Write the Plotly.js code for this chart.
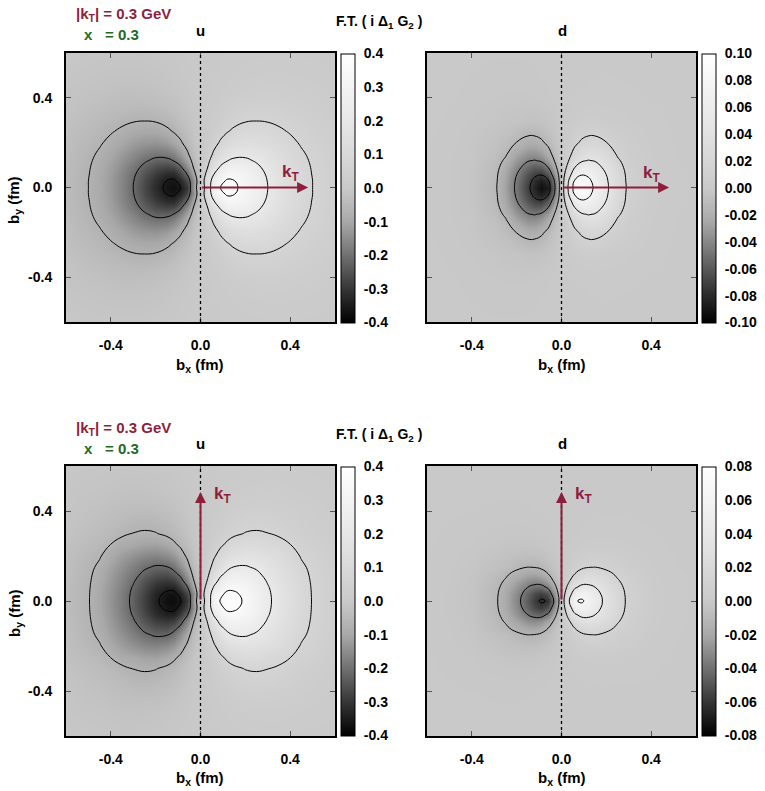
<!DOCTYPE html>
<html><head><meta charset="utf-8">
<script src="https://cdn.plot.ly/plotly-3.0.1.min.js"></script>
<style>html,body{margin:0;padding:0;background:#fff}#plot{width:765px;height:791px}</style>
</head><body><div id="plot"></div>
<script>
// grid nodes (fm) for the quadrant x>=0, y>=0 ; the plane is filled by symmetry
// (odd in b_x, even in b_y)
const xPosU = [0, 0.03, 0.06, 0.09, 0.12, 0.15, 0.2, 0.25, 0.3, 0.35, 0.4, 0.45, 0.5, 0.6];
const yPosU = [0, 0.03, 0.06, 0.09, 0.12, 0.15, 0.2, 0.25, 0.3, 0.35, 0.4, 0.45, 0.5, 0.6];
const xPosD = [0, 0.03, 0.06, 0.09, 0.12, 0.15, 0.2, 0.25, 0.3, 0.4, 0.5, 0.6];
const yPosD = [0, 0.03, 0.06, 0.09, 0.12, 0.15, 0.2, 0.25, 0.3, 0.4, 0.5, 0.6];

// u quark, k_T along x (rows = yPosU, cols = xPosU)
const uTop = [
  [0, 0.117, 0.300, 0.353, 0.373, 0.365, 0.320, 0.265, 0.210, 0.165, 0.125, 0.095, 0.070, 0.040],
  [0, 0.131, 0.266, 0.330, 0.359, 0.352, 0.313, 0.260, 0.207, 0.163, 0.124, 0.0942, 0.070, 0.040],
  [0, 0.094, 0.208, 0.277, 0.321, 0.318, 0.291, 0.246, 0.199, 0.158, 0.120, 0.0918, 0.068, 0.039],
  [0, 0.064, 0.151, 0.225, 0.261, 0.274, 0.260, 0.226, 0.186, 0.149, 0.115, 0.0879, 0.066, 0.038],
  [0, 0.045, 0.113, 0.170, 0.208, 0.226, 0.225, 0.201, 0.169, 0.137, 0.107, 0.0828, 0.063, 0.037],
  [0, 0.032, 0.081, 0.128, 0.162, 0.183, 0.190, 0.174, 0.151, 0.124, 0.099, 0.0765, 0.059, 0.035],
  [0, 0.018, 0.048, 0.079, 0.104, 0.123, 0.136, 0.132, 0.119, 0.0996, 0.082, 0.0645, 0.052, 0.032],
  [0, 0.011, 0.029, 0.049, 0.067, 0.081, 0.095, 0.097, 0.089, 0.0785, 0.066, 0.0536, 0.044, 0.0275],
  [0, 0.0066, 0.018, 0.030, 0.043, 0.053, 0.065, 0.068, 0.066, 0.0592, 0.050, 0.0438, 0.036, 0.023],
  [0, 0.0041, 0.0112, 0.0194, 0.0275, 0.0347, 0.043, 0.0474, 0.047, 0.0431, 0.0396, 0.0344, 0.0283, 0.0185],
  [0, 0.0025, 0.007, 0.012, 0.018, 0.023, 0.029, 0.032, 0.033, 0.0324, 0.030, 0.0256, 0.023, 0.015],
  [0, 0.0016, 0.0045, 0.0079, 0.0114, 0.0147, 0.0191, 0.0222, 0.0239, 0.0236, 0.0214, 0.0199, 0.0172, 0.0129],
  [0, 0.001, 0.003, 0.005, 0.0074, 0.0098, 0.013, 0.016, 0.017, 0.0166, 0.016, 0.0147, 0.013, 0.010],
  [0, 0.0006, 0.0012, 0.0022, 0.0033, 0.0044, 0.0061, 0.0074, 0.0082, 0.0082, 0.0084, 0.0084, 0.0079, 0.006]
];
// d quark, k_T along x (rows = yPosD, cols = xPosD)
const dTop = [
  [0, 0.047, 0.087, 0.093, 0.084, 0.0707, 0.0493, 0.027, 0.0115, 0.003, 0.001, 0.0003],
  [0, 0.043, 0.078, 0.087, 0.080, 0.068, 0.048, 0.026, 0.011, 0.003, 0.001, 0.0003],
  [0, 0.0316, 0.061, 0.0728, 0.0705, 0.0621, 0.0445, 0.0243, 0.0106, 0.0029, 0.001, 0.0003],
  [0, 0.0206, 0.045, 0.0571, 0.0581, 0.0533, 0.0393, 0.0212, 0.0095, 0.0028, 0.001, 0.0003],
  [0, 0.0137, 0.0314, 0.0424, 0.0458, 0.0437, 0.0329, 0.0173, 0.008, 0.0027, 0.0009, 0.0003],
  [0, 0.0091, 0.0215, 0.0308, 0.0349, 0.0345, 0.0261, 0.0129, 0.0068, 0.0024, 0.0008, 0.0003],
  [0, 0.0046, 0.0116, 0.0176, 0.021, 0.0211, 0.0154, 0.0087, 0.0053, 0.0021, 0.0007, 0.0003],
  [0, 0.0024, 0.0061, 0.0093, 0.011, 0.0109, 0.0078, 0.0052, 0.0039, 0.0017, 0.0006, 0.0002],
  [0, 0.0011, 0.0027, 0.0041, 0.0046, 0.0048, 0.0039, 0.0035, 0.0024, 0.0012, 0.0005, 0.0002],
  [0, 0.0002, 0.0005, 0.0009, 0.0012, 0.0014, 0.0014, 0.0013, 0.0011, 0.0006, 0.0003, 0.0001],
  [0, 0.0001, 0.0002, 0.0003, 0.0005, 0.0006, 0.0007, 0.0007, 0.0006, 0.0004, 0.0002, 0.0001],
  [0, 0, 0.0001, 0.0001, 0.0002, 0.0002, 0.0003, 0.0003, 0.0003, 0.0002, 0.0001, 0.0001]
];
// u quark, k_T along y (rows = yPosU, cols = xPosU)
const uBot = [
  [0, 0.117, 0.300, 0.357, 0.378, 0.373, 0.340, 0.280, 0.226, 0.178, 0.137, 0.100, 0.0668, 0.035],
  [0, 0.135, 0.273, 0.337, 0.366, 0.363, 0.333, 0.276, 0.2235, 0.1764, 0.136, 0.0991, 0.0663, 0.0348],
  [0, 0.102, 0.223, 0.291, 0.334, 0.335, 0.314, 0.264, 0.216, 0.1715, 0.132, 0.0964, 0.0653, 0.0344],
  [0, 0.0717, 0.166, 0.241, 0.283, 0.297, 0.286, 0.247, 0.203, 0.1637, 0.127, 0.0922, 0.0634, 0.0336],
  [0, 0.051, 0.1275, 0.192, 0.233, 0.256, 0.252, 0.224, 0.188, 0.1534, 0.1196, 0.0865, 0.061, 0.0325],
  [0, 0.0377, 0.0955, 0.149, 0.190, 0.214, 0.218, 0.2007, 0.171, 0.1412, 0.111, 0.0795, 0.0578, 0.0312],
  [0, 0.0232, 0.0611, 0.0994, 0.130, 0.151, 0.164, 0.157, 0.140, 0.1192, 0.0936, 0.0656, 0.0516, 0.0285],
  [0, 0.0135, 0.0361, 0.0602, 0.0815, 0.0978, 0.1126, 0.110, 0.0987, 0.0897, 0.0711, 0.0517, 0.0417, 0.0238],
  [0, 0.0077, 0.0208, 0.0354, 0.0491, 0.0601, 0.0722, 0.0754, 0.0711, 0.0616, 0.0481, 0.0385, 0.0309, 0.0182],
  [0, 0.0051, 0.0139, 0.0239, 0.0337, 0.0422, 0.0518, 0.0557, 0.0535, 0.0453, 0.0377, 0.0314, 0.0249, 0.0153],
  [0, 0.0035, 0.0096, 0.0167, 0.0239, 0.0302, 0.0379, 0.0402, 0.0383, 0.034, 0.0309, 0.0248, 0.0205, 0.0125],
  [0, 0.0023, 0.0063, 0.011, 0.0158, 0.0201, 0.0251, 0.0264, 0.0264, 0.0257, 0.023, 0.0185, 0.0167, 0.011],
  [0, 0.0014, 0.004, 0.0069, 0.0099, 0.0123, 0.0157, 0.0183, 0.0194, 0.0186, 0.0167, 0.0141, 0.0129, 0.0094],
  [0, 0.0006, 0.0018, 0.0032, 0.0046, 0.006, 0.008, 0.0084, 0.0092, 0.0096, 0.0086, 0.0077, 0.0075, 0.0059]
];
// d quark, k_T along y (rows = yPosD, cols = xPosD)
const dBot = [
  [0, 0.033, 0.0612, 0.0645, 0.058, 0.0475, 0.032, 0.0185, 0.0098, 0.003, 0.001, 0.0004],
  [0, 0.0257, 0.0508, 0.0574, 0.0534, 0.0447, 0.0306, 0.0179, 0.0096, 0.003, 0.001, 0.0004],
  [0, 0.0165, 0.0353, 0.043, 0.0424, 0.0378, 0.0269, 0.0161, 0.009, 0.0028, 0.001, 0.0004],
  [0, 0.0095, 0.0217, 0.0289, 0.0307, 0.0289, 0.0217, 0.0135, 0.008, 0.0027, 0.0009, 0.0004],
  [0, 0.0054, 0.0128, 0.0185, 0.021, 0.0205, 0.016, 0.0105, 0.0069, 0.0024, 0.0009, 0.0004],
  [0, 0.0028, 0.0069, 0.0104, 0.0122, 0.0126, 0.0101, 0.0067, 0.005, 0.0018, 0.0007, 0.0003],
  [0, 0.0012, 0.0032, 0.0049, 0.0059, 0.0064, 0.0055, 0.0048, 0.0034, 0.0015, 0.0006, 0.0003],
  [0, 0.0005, 0.0012, 0.0019, 0.0024, 0.0028, 0.0031, 0.0026, 0.0018, 0.0009, 0.0005, 0.0002],
  [0, 0.0002, 0.0005, 0.0008, 0.001, 0.0012, 0.0014, 0.0013, 0.0011, 0.0007, 0.0004, 0.0002],
  [0, 0.0001, 0.0002, 0.0002, 0.0003, 0.0004, 0.0004, 0.0004, 0.0004, 0.0003, 0.0002, 0.0001],
  [0, 0, 0.0001, 0.0001, 0.0001, 0.0001, 0.0002, 0.0002, 0.0002, 0.0001, 0.0001, 0.0001],
  [0, 0, 0, 0, 0.0001, 0.0001, 0.0001, 0.0001, 0.0001, 0.0001, 0.0001, 0]
];

const axisTickVals = [-0.4, 0, 0.4];
const axisTickText = ['-0.4', '0.0', '0.4'];
const cbU = [-0.4, -0.3, -0.2, -0.1, 0, 0.1, 0.2, 0.3, 0.4];
const cbUText = ['-0.4', '-0.3', '-0.2', '-0.1', '0.0', '0.1', '0.2', '0.3', '0.4'];
const cbDTop = [-0.1, -0.08, -0.06, -0.04, -0.02, 0, 0.02, 0.04, 0.06, 0.08, 0.1];
const cbDTopText = ['-0.10', '-0.08', '-0.06', '-0.04', '-0.02', '0.00', '0.02', '0.04', '0.06', '0.08', '0.10'];
const cbDBot = [-0.08, -0.06, -0.04, -0.02, 0, 0.02, 0.04, 0.06, 0.08];
const cbDBotText = ['-0.08', '-0.06', '-0.04', '-0.02', '0.00', '0.02', '0.04', '0.06', '0.08'];

const W = 765, H = 791;
const F = 'Liberation Sans, Arial, Helvetica, sans-serif';
const RED = '#8e1f3c', GREEN = '#236b1e';
const px = v => v / W, py = v => 1 - v / H;

const grayScale = [[0, '#000000'], [0.125, '#353535'], [0.25, '#707070'], [0.375, '#a8a8a8'],
  [0.5, '#c9c9c9'], [0.625, '#d9d9d9'], [0.75, '#e7e7e7'], [0.875, '#f3f3f3'], [1, '#ffffff']];

function fullPlane(Q, xP, yP) {
  const xs = xP.slice(1).reverse().map(v => -v).concat(xP);
  const ys = yP.slice(1).reverse().map(v => -v).concat(yP);
  const z = ys.map(y => {
    const row = Q[yP.indexOf(Math.abs(y))];
    return xs.map(x => (x < 0 ? -1 : 1) * row[xP.indexOf(Math.abs(x))]);
  });
  return { xs, ys, z };
}

const panels = [
  { q: uTop, gx: xPosU, gy: yPosU, n: '', zr: 0.4, cbx: 341, cby: 188, vals: cbU, text: cbUText, lv: [-0.35, 0.35, 0.14] },
  { q: dTop, gx: xPosD, gy: yPosD, n: '2', zr: 0.1, cbx: 702, cby: 188, vals: cbDTop, text: cbDTopText, lv: [-0.075, 0.075, 0.03] },
  { q: uBot, gx: xPosU, gy: yPosU, n: '3', zr: 0.4, cbx: 341, cby: 601, vals: cbU, text: cbUText, lv: [-0.35, 0.35, 0.14] },
  { q: dBot, gx: xPosD, gy: yPosD, n: '4', zr: 0.08, cbx: 702, cby: 601, vals: cbDBot, text: cbDBotText, lv: [-0.0625, 0.0625, 0.025] }
];

const traces = [];
panels.forEach(p => {
  const g = fullPlane(p.q, p.gx, p.gy);
  traces.push({
    type: 'heatmap', x: g.xs, y: g.ys, z: g.z, xaxis: 'x' + p.n, yaxis: 'y' + p.n,
    zsmooth: 'best', zmin: -p.zr, zmax: p.zr, colorscale: grayScale, hoverinfo: 'skip',
    colorbar: {
      x: px(p.cbx), xanchor: 'left', y: py(p.cby), yanchor: 'middle',
      len: 269, lenmode: 'pixels', thickness: 14, thicknessmode: 'pixels',
      xpad: 0, ypad: 0, outlinewidth: 1, outlinecolor: '#000',
      tickvals: p.vals, ticktext: p.text, ticks: 'outside', ticklen: 6, tickcolor: 'rgba(0,0,0,0)',
      tickfont: { family: F, size: 14, color: '#000', weight: 'bold' }
    }
  });
  traces.push({
    type: 'contour', x: g.xs, y: g.ys, z: g.z, xaxis: 'x' + p.n, yaxis: 'y' + p.n,
    autocontour: false, contours: { start: p.lv[0], end: p.lv[1], size: p.lv[2], coloring: 'none' },
    line: { color: '#000', width: 1, smoothing: 1.3 }, showscale: false, hoverinfo: 'skip'
  });
});

function axis(domain, anchor, labels) {
  return {
    domain, anchor, range: [-0.6, 0.6], tickvals: axisTickVals, ticktext: axisTickText,
    ticks: 'inside', ticklen: 5, tickwidth: 1, tickcolor: '#555', showticklabels: labels,
    showline: true, linewidth: 2, linecolor: '#000', mirror: 'ticks',
    showgrid: false, zeroline: false, fixedrange: true, ticklabelstandoff: 9,
    tickfont: { family: F, size: 14, color: '#000', weight: 'bold' }
  };
}
const dxL = [px(66), px(335)], dxR = [px(427), px(696)];
const dyT = [py(322), py(53)], dyB = [py(736), py(466)];

const layout = {
  width: W, height: H, margin: { l: 0, r: 0, t: 0, b: 0 },
  paper_bgcolor: '#fff', plot_bgcolor: '#c9c9c9', showlegend: false,
  xaxis: axis(dxL, 'y', true), yaxis: axis(dyT, 'x', true),
  xaxis2: axis(dxR, 'y2', true), yaxis2: axis(dyT, 'x2', false),
  xaxis3: axis(dxL, 'y3', true), yaxis3: axis(dyB, 'x3', true),
  xaxis4: axis(dxR, 'y4', true), yaxis4: axis(dyB, 'x4', false),
  shapes: [], annotations: []
};

['', '2', '3', '4'].forEach(n => {
  layout.shapes.push({ type: 'line', xref: 'x' + n, yref: 'y' + n, x0: 0, x1: 0, y0: -0.6, y1: 0.6,
    line: { color: '#000', width: 1.3, dash: '3px,3px' } });
});

const A = layout.annotations;
function txt(text, x, y, opt) {
  A.push(Object.assign({ text, x: px(x), y: py(y), xref: 'paper', yref: 'paper', showarrow: false,
    xanchor: 'center', yanchor: 'middle', font: { family: F, size: 15, color: '#000', weight: 'bold' } }, opt || {}));
}
[0, 413].forEach(o => {
  txt('|k<sub>T</sub>| = 0.3 GeV', 74, 15 + o, { xanchor: 'left', font: { family: F, size: 15, color: RED, weight: 'bold' } });
  txt('x', 82, 35 + o, { xanchor: 'left', font: { family: F, size: 15, color: GREEN, weight: 'bold' } });
  txt('= 0.3', 103, 35 + o, { xanchor: 'left', font: { family: F, size: 15, color: GREEN, weight: 'bold' } });
  txt('u', 200, 30 + o);
  txt('d', 562, 30 + o);
  txt('F.T. ( i Δ<sub>1</sub> G<sub>2</sub> )', 334, 22 + o, { xanchor: 'left', font: { family: F, size: 14, color: '#000', weight: 'bold' } });
  txt('b<sub>x</sub> (fm)', 200, 365 + o);
  txt('b<sub>x</sub> (fm)', 562, 365 + o);
  txt('b<sub>y</sub> (fm)', 15, 200 + o, { textangle: -90 });
});

// k_T arrows
const arrows = [
  { n: '', x: 0.48, y: 0, lx: 0.40, ly: 0.065 },
  { n: '2', x: 0.48, y: 0, lx: 0.40, ly: 0.06 },
  { n: '3', x: 0, y: 0.485, lx: 0.098, ly: 0.47 },
  { n: '4', x: 0, y: 0.485, lx: 0.098, ly: 0.47 }
];
arrows.forEach(a => {
  A.push({ xref: 'x' + a.n, yref: 'y' + a.n, axref: 'x' + a.n, ayref: 'y' + a.n,
    x: a.x, y: a.y, ax: 0, ay: 0, text: '', showarrow: true, arrowhead: 2, arrowsize: 1.1,
    arrowwidth: 2, arrowcolor: RED, standoff: 0, startstandoff: 0 });
  A.push({ xref: 'x' + a.n, yref: 'y' + a.n, x: a.lx, y: a.ly, showarrow: false,
    text: 'k<sub>T</sub>', font: { family: F, size: 17, color: RED, weight: 'bold' } });
});

Plotly.newPlot('plot', traces, layout, { staticPlot: true, displayModeBar: false });
</script>
</body></html>
